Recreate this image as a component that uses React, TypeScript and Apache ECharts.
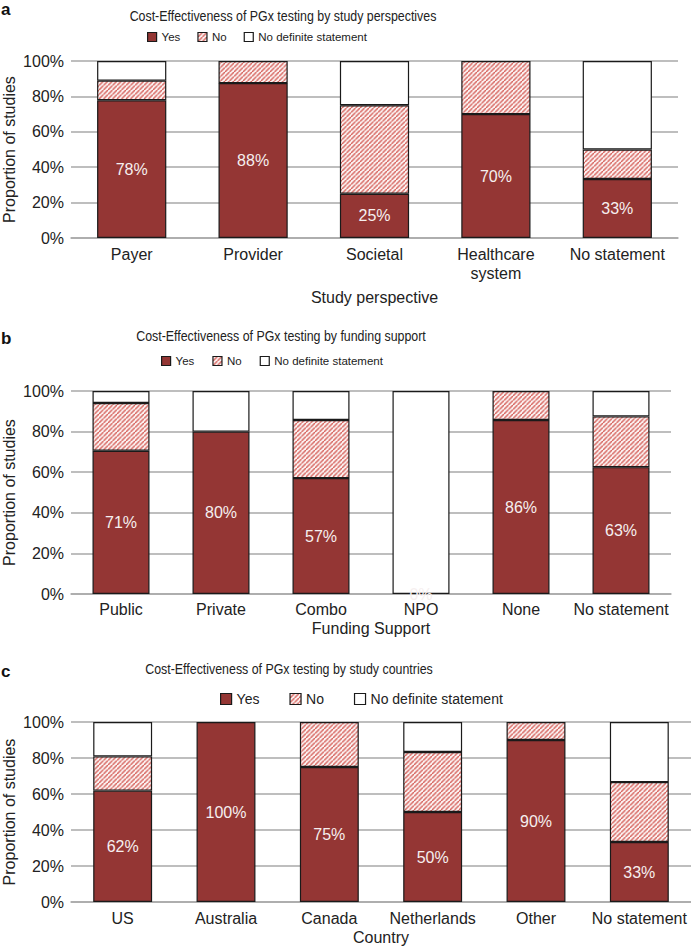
import React, { useEffect, useRef } from 'react';
import * as echarts from 'echarts';

// ---------- data ----------
const seriesNames = ['Yes', 'No', 'No definite statement'];
const yTickValues = [0, 20, 40, 60, 80, 100];

const perspectiveCategories = ['Payer', 'Provider', 'Societal', 'Healthcare\nsystem', 'No statement'];
const perspectiveYes = [77.8, 87.5, 25, 70, 33.3];
const perspectiveNo = [11.1, 12.5, 50, 30, 16.7];
const perspectiveNone = [11.1, 0, 25, 0, 50];

const fundingCategories = ['Public', 'Private', 'Combo', 'NPO', 'None', 'No statement'];
const fundingYes = [70.6, 80, 57.1, 0, 85.7, 62.5];
const fundingNo = [23.5, 0, 28.6, 0, 14.3, 25];
const fundingNone = [5.9, 20, 14.3, 100, 0, 12.5];

const countryCategories = ['US', 'Australia', 'Canada', 'Netherlands', 'Other', 'No statement'];
const countryYes = [61.9, 100, 75, 50, 90, 33.3];
const countryNo = [19.0, 0, 25, 33.3, 10, 33.3];
const countryNone = [19.1, 0, 0, 16.7, 0, 33.4];

const panelTitles = [
  'Cost-Effectiveness of PGx testing by study perspectives',
  'Cost-Effectiveness of PGx testing by funding support',
  'Cost-Effectiveness of PGx testing by study countries',
];
const panelLetters = ['a', 'b', 'c'];
const xAxisNames = ['Study perspective', 'Funding Support', 'Country'];
const yAxisName = 'Proportion of studies';

// ---------- layout / style ----------
const FONT = "'Liberation Sans', Arial, Helvetica, sans-serif";
const TEXT = '#222';
const YES_COLOR = '#943634';
const HATCH_COLOR = '#d45c56';
const GRID_COLOR = '#a9a9a9';
const BORDER = '#1a1a1a';

const panels = [
  {
    cats: perspectiveCategories, yes: perspectiveYes, no: perspectiveNo, none: perspectiveNone,
    grid: { left: 71, top: 61, width: 607, height: 177 },
    titleX: 283, titleY: 15, letterY: 9,
    legend: { left: 147, top: 31, itemWidth: 9, itemHeight: 9, itemGap: 17, size: 11.5 },
    labelMargin: 7, nameGap: 51,
  },
  {
    cats: fundingCategories, yes: fundingYes, no: fundingNo, none: fundingNone,
    grid: { left: 71, top: 391, width: 600, height: 203 },
    titleX: 281, titleY: 335, letterY: 338,
    legend: { left: 161, top: 355, itemWidth: 9, itemHeight: 9, itemGap: 18, size: 11.5 },
    labelMargin: 6, nameGap: 26,
  },
  {
    cats: countryCategories, yes: countryYes, no: countryNo, none: countryNone,
    grid: { left: 71, top: 722, width: 620, height: 180 },
    titleX: 289, titleY: 668, letterY: 671,
    legend: { left: 220, top: 692, itemWidth: 11, itemHeight: 11, itemGap: 30, size: 14 },
    labelMargin: 7, nameGap: 27,
  },
];

function makeHatch() {
  const tile = 4.5;
  const scale = 4;
  const size = tile * scale;
  const c = document.createElement('canvas');
  c.width = size;
  c.height = size;
  const ctx = c.getContext('2d');
  if (ctx) {
    ctx.fillStyle = '#ffffff';
    ctx.fillRect(0, 0, size, size);
    ctx.strokeStyle = HATCH_COLOR;
    ctx.lineWidth = 1.45 * scale;
    for (let k = -1; k <= 1; k++) {
      ctx.beginPath();
      ctx.moveTo(k * size, size);
      ctx.lineTo(k * size + size, 0);
      ctx.stroke();
    }
  }
  return { image: c, repeat: 'repeat', imageWidth: tile, imageHeight: tile };
}

// zero-height segments get no border so they do not draw stray lines
function withBorders(values: number[]) {
  return values.map((v) => (v === 0 ? { value: v, itemStyle: { borderWidth: 0 } } : v));
}

export default function App() {
  const ref = useRef<HTMLDivElement>(null);

  useEffect(() => {
    if (!ref.current) return;
    document.body.style.margin = '0';
    const chart = echarts.init(ref.current, undefined, { renderer: 'svg' });
    const hatch = makeHatch();

    const grids: any[] = [];
    const xAxes: any[] = [];
    const yAxes: any[] = [];
    const series: any[] = [];
    const legends: any[] = [];
    const graphics: any[] = [];

    panels.forEach((p, i) => {
      grids.push({ ...p.grid, containLabel: false, outerBoundsMode: 'none' });
      xAxes.push({
        type: 'category',
        gridIndex: i,
        data: p.cats,
        name: xAxisNames[i],
        nameLocation: 'middle',
        nameGap: p.nameGap,
        nameMoveOverlap: false,
        nameTextStyle: { fontSize: 16, color: TEXT, fontFamily: FONT },
        axisLine: { show: true, lineStyle: { color: GRID_COLOR, width: 1.5 } },
        axisTick: { show: false },
        axisLabel: {
          interval: 0,
          hideOverlap: false,
          fontSize: 16,
          lineHeight: 19,
          color: TEXT,
          fontFamily: FONT,
          margin: p.labelMargin,
        },
      });
      yAxes.push({
        type: 'value',
        gridIndex: i,
        min: yTickValues[0],
        max: yTickValues[yTickValues.length - 1],
        interval: yTickValues[1] - yTickValues[0],
        name: yAxisName,
        nameLocation: 'middle',
        nameGap: 54,
        nameMoveOverlap: false,
        nameTextStyle: { fontSize: 16, color: TEXT, fontFamily: FONT },
        axisLine: { show: false },
        axisTick: { show: false },
        axisLabel: { formatter: '{value}%', fontSize: 16, color: TEXT, fontFamily: FONT, margin: 7 },
        splitLine: { show: true, lineStyle: { color: GRID_COLOR, width: 1.5 } },
      });
      const common = {
        type: 'bar',
        stack: 'stack' + i,
        xAxisIndex: i,
        yAxisIndex: i,
        barWidth: '57%',
      };
      series.push({
        ...common,
        name: seriesNames[0],
        data: withBorders(p.yes),
        itemStyle: { color: YES_COLOR, borderColor: BORDER, borderWidth: 1.2 },
        label: {
          show: true,
          position: 'inside',
          formatter: (d: any) => Math.round(d.value) + '%',
          color: '#f6efef',
          fontSize: 16,
          fontFamily: FONT,
        },
      });
      series.push({
        ...common,
        name: seriesNames[1],
        data: withBorders(p.no),
        itemStyle: { color: hatch, borderColor: BORDER, borderWidth: 1.2 },
      });
      series.push({
        ...common,
        name: seriesNames[2],
        data: withBorders(p.none),
        itemStyle: { color: '#ffffff', borderColor: BORDER, borderWidth: 1.2 },
      });
      legends.push({
        left: p.legend.left,
        top: p.legend.top,
        padding: 0,
        icon: 'rect',
        selectedMode: false,
        itemWidth: p.legend.itemWidth,
        itemHeight: p.legend.itemHeight,
        itemGap: p.legend.itemGap,
        itemStyle: { borderColor: BORDER, borderWidth: 1.2 },
        textStyle: { fontFamily: FONT, fontSize: p.legend.size, color: TEXT },
        data: seriesNames,
      });
      graphics.push({
        type: 'text',
        x: p.titleX,
        y: p.titleY,
        scaleX: 0.8,
        style: {
          text: panelTitles[i],
          fontFamily: FONT,
          fontSize: 15.5,
          fill: TEXT,
          textAlign: 'center',
          textVerticalAlign: 'middle',
          align: 'center',
          verticalAlign: 'middle',
        },
      });
      graphics.push({
        type: 'text',
        x: 1,
        y: p.letterY,
        style: {
          text: panelLetters[i],
          fontFamily: FONT,
          fontWeight: 'bold',
          fontSize: 17,
          fill: '#111',
          textAlign: 'left',
          textVerticalAlign: 'middle',
          align: 'left',
          verticalAlign: 'middle',
        },
      });
    });

    chart.setOption({
      animation: false,
      backgroundColor: '#ffffff',
      textStyle: { fontFamily: FONT },
      grid: grids,
      xAxis: xAxes,
      yAxis: yAxes,
      legend: legends,
      series,
      graphic: graphics,
    });

    return () => chart.dispose();
  }, []);

  return (
    <div
      ref={ref}
      style={{ position: 'fixed', left: 0, top: 0, width: 691, height: 949 }}
    />
  );
}
